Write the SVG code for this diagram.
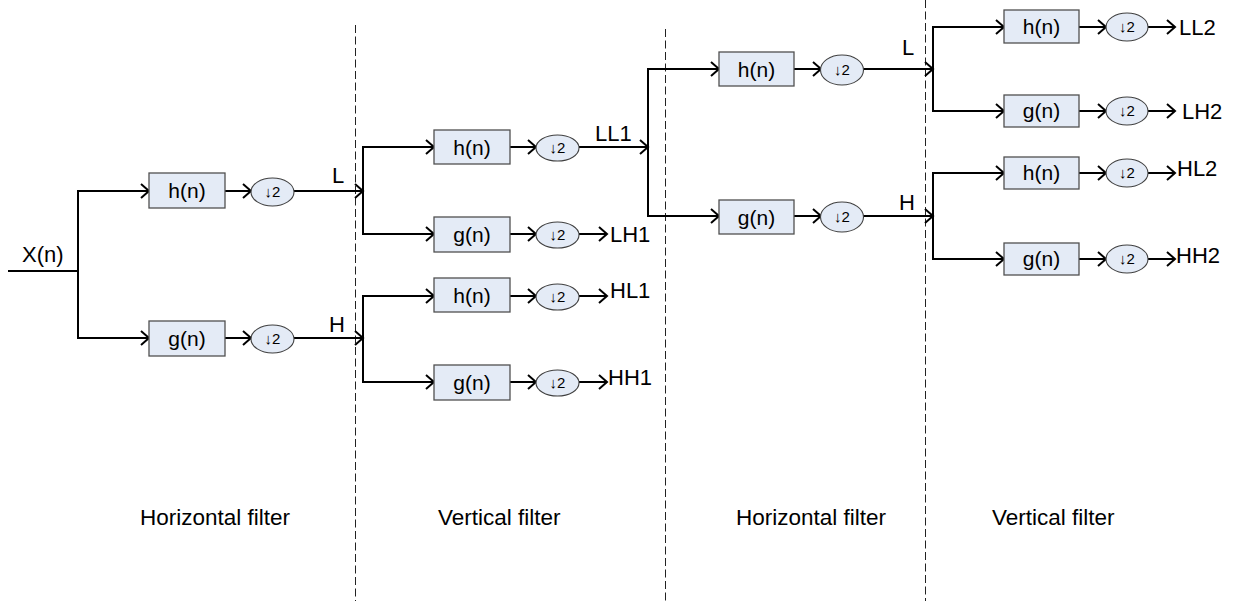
<svg xmlns="http://www.w3.org/2000/svg" width="1243" height="601" viewBox="0 0 1243 601">
<defs>
<marker id="arr" markerUnits="userSpaceOnUse" markerWidth="12" markerHeight="18" viewBox="0 0 12 18" refX="10" refY="9" orient="auto">
<path d="M2,2 L10,9 L2,16" fill="none" stroke="#000" stroke-width="2"/>
</marker>
<style>
.box{fill:#E4EBF6;stroke:#505050;stroke-width:1.3}
.ell{fill:#E4EBF6;stroke:#404040;stroke-width:1.1}
.bt{font-family:"Liberation Sans",Arial,sans-serif;font-size:21px;text-anchor:middle;fill:#000}
.et{font-family:"Liberation Sans",Arial,sans-serif;font-size:15px;text-anchor:middle;fill:#000}
.lbl{font-family:"Liberation Sans",Arial,sans-serif;font-size:22px;fill:#000}
.cap{font-family:"Liberation Sans",Arial,sans-serif;font-size:22.5px;fill:#000}
.c{fill:none;stroke:#000;stroke-width:2}
.ca{fill:none;stroke:#000;stroke-width:2;marker-end:url(#arr)}
.sep{stroke:#222;stroke-width:1;stroke-dasharray:8 3.5}
</style>
</defs>
<rect width="1243" height="601" fill="#fff"/>

<g id="separators">
<line class="sep" x1="355.5" y1="25" x2="355.5" y2="601"/>
<line class="sep" x1="665.5" y1="29" x2="665.5" y2="601"/>
<line class="sep" x1="925.5" y1="0" x2="925.5" y2="601"/>
</g>

<g id="connectors">
<path class="c" d="M8,271 H78"/>
<path class="ca" d="M78,271 V191 H149"/>
<path class="ca" d="M78,271 V338 H149"/>
<path class="ca" d="M225,191 H251"/>
<path class="ca" d="M294,191 H363"/>
<path class="ca" d="M225,338 H251"/>
<path class="ca" d="M294,338 H363"/>

<path class="ca" d="M363,191 V147 H434"/>
<path class="ca" d="M363,191 V234 H434"/>
<path class="ca" d="M510,147 H536"/>
<path class="ca" d="M579,147 H648"/>
<path class="ca" d="M510,234 H536"/>
<path class="ca" d="M579,234 H607"/>
<path class="ca" d="M363,338 V296 H434"/>
<path class="ca" d="M363,338 V382 H434"/>
<path class="ca" d="M510,296 H536"/>
<path class="ca" d="M579,296 H607"/>
<path class="ca" d="M510,382 H536"/>
<path class="ca" d="M579,382 H607"/>

<path class="ca" d="M648,147 V69 H719"/>
<path class="ca" d="M648,147 V216 H719"/>
<path class="ca" d="M794,69 H821"/>
<path class="ca" d="M863,69 H933"/>
<path class="ca" d="M794,216 H821"/>
<path class="ca" d="M863,216 H933"/>

<path class="ca" d="M933,69 V27 H1004"/>
<path class="ca" d="M933,69 V111 H1004"/>
<path class="ca" d="M1079,27 H1106"/>
<path class="ca" d="M1148,27 H1175"/>
<path class="ca" d="M1079,111 H1106"/>
<path class="ca" d="M1148,111 H1175"/>
<path class="ca" d="M933,216 V173 H1004"/>
<path class="ca" d="M933,216 V259 H1004"/>
<path class="ca" d="M1079,173 H1106"/>
<path class="ca" d="M1148,173 H1175"/>
<path class="ca" d="M1079,259 H1106"/>
<path class="ca" d="M1148,259 H1175"/>
</g>

<g id="labels">
<text class="lbl" x="22" y="262">X(n)</text>
<text class="lbl" x="332" y="183">L</text>
<text class="lbl" x="329" y="332">H</text>
<text class="lbl" x="595" y="141">LL1</text>
<text class="lbl" x="610" y="242">LH1</text>
<text class="lbl" x="610" y="298">HL1</text>
<text class="lbl" x="608" y="385">HH1</text>
<text class="lbl" x="902" y="55">L</text>
<text class="lbl" x="899" y="210">H</text>
<text class="lbl" x="1179" y="35">LL2</text>
<text class="lbl" x="1182" y="119">LH2</text>
<text class="lbl" x="1177" y="176">HL2</text>
<text class="lbl" x="1176" y="263">HH2</text>
<text class="cap" x="140" y="525">Horizontal filter</text>
<text class="cap" x="438" y="525">Vertical filter</text>
<text class="cap" x="736" y="525">Horizontal filter</text>
<text class="cap" x="992" y="525">Vertical filter</text>
</g>

<g id="s1-h"><rect class="box" x="149" y="173" width="76" height="35"/><text class="bt" x="187" y="198">h(n)</text></g>
<g id="s1-h-ds"><ellipse class="ell" cx="272.5" cy="192" rx="21.5" ry="14"/><text class="et" x="272.5" y="197">↓2</text></g>
<g id="s1-g"><rect class="box" x="149" y="321" width="76" height="35"/><text class="bt" x="187" y="346">g(n)</text></g>
<g id="s1-g-ds"><ellipse class="ell" cx="272.5" cy="339" rx="21.5" ry="14"/><text class="et" x="272.5" y="344">↓2</text></g>

<g id="s2-lh"><rect class="box" x="434" y="130" width="76" height="34"/><text class="bt" x="472" y="155">h(n)</text></g>
<g id="s2-lh-ds"><ellipse class="ell" cx="557.5" cy="148" rx="21.5" ry="13"/><text class="et" x="557.5" y="153">↓2</text></g>
<g id="s2-lg"><rect class="box" x="434" y="217" width="76" height="35"/><text class="bt" x="472" y="242">g(n)</text></g>
<g id="s2-lg-ds"><ellipse class="ell" cx="557.5" cy="235" rx="21.5" ry="13"/><text class="et" x="557.5" y="240">↓2</text></g>
<g id="s2-hh"><rect class="box" x="434" y="278" width="76" height="34"/><text class="bt" x="472" y="303">h(n)</text></g>
<g id="s2-hh-ds"><ellipse class="ell" cx="557.5" cy="297" rx="21.5" ry="13"/><text class="et" x="557.5" y="302">↓2</text></g>
<g id="s2-hg"><rect class="box" x="434" y="365" width="76" height="35"/><text class="bt" x="472" y="390">g(n)</text></g>
<g id="s2-hg-ds"><ellipse class="ell" cx="557.5" cy="383" rx="21.5" ry="13"/><text class="et" x="557.5" y="388">↓2</text></g>

<g id="s3-h"><rect class="box" x="719" y="52" width="75" height="34"/><text class="bt" x="756.5" y="77">h(n)</text></g>
<g id="s3-h-ds"><ellipse class="ell" cx="842" cy="70" rx="21.5" ry="15"/><text class="et" x="842" y="75">↓2</text></g>
<g id="s3-g"><rect class="box" x="719" y="200" width="75" height="34"/><text class="bt" x="756.5" y="225">g(n)</text></g>
<g id="s3-g-ds"><ellipse class="ell" cx="842" cy="217" rx="21.5" ry="15"/><text class="et" x="842" y="222">↓2</text></g>

<g id="s4-ll"><rect class="box" x="1004" y="10" width="75" height="33"/><text class="bt" x="1041.5" y="34">h(n)</text></g>
<g id="s4-ll-ds"><ellipse class="ell" cx="1127" cy="27" rx="21" ry="14"/><text class="et" x="1127" y="32">↓2</text></g>
<g id="s4-lh"><rect class="box" x="1004" y="95" width="75" height="32"/><text class="bt" x="1041.5" y="118">g(n)</text></g>
<g id="s4-lh-ds"><ellipse class="ell" cx="1127" cy="111" rx="21" ry="14"/><text class="et" x="1127" y="116">↓2</text></g>
<g id="s4-hl"><rect class="box" x="1004" y="157" width="75" height="32"/><text class="bt" x="1041.5" y="180">h(n)</text></g>
<g id="s4-hl-ds"><ellipse class="ell" cx="1127" cy="173" rx="21" ry="14"/><text class="et" x="1127" y="178">↓2</text></g>
<g id="s4-hh"><rect class="box" x="1004" y="243" width="75" height="32"/><text class="bt" x="1041.5" y="266">g(n)</text></g>
<g id="s4-hh-ds"><ellipse class="ell" cx="1127" cy="259" rx="21" ry="14"/><text class="et" x="1127" y="264">↓2</text></g>
</svg>
